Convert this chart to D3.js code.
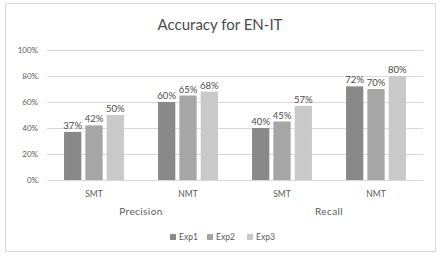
<!DOCTYPE html>
<html>
<head>
<meta charset="utf-8">
<script src="https://cdn.jsdelivr.net/npm/d3@7"></script>
<style>
  body { margin: 0; background: #fff; }
  svg { display: block; font-family: Lato, "Open Sans", sans-serif; }
</style>
</head>
<body>
<svg id="chart" width="444" height="258"></svg>
<script>
// chart data
const groups = ["Precision", "Recall"];
const categories = ["SMT", "NMT", "SMT", "NMT"];
const seriesNames = ["Exp1", "Exp2", "Exp3"];
const exp1 = [37, 60, 40, 72];
const exp2 = [42, 65, 45, 70];
const exp3 = [50, 68, 57, 80];
const yTicks = [0, 20, 40, 60, 80, 100];
const colors = ["#898989", "#a6a6a6", "#c9c9c9"];

const svg = d3.select('#chart');

// outer frame
svg.append('rect')
    .attr('x', 5.5).attr('y', 3.5)
    .attr('width', 430).attr('height', 248)
    .attr('fill', '#fff')
    .attr('stroke', '#d9d9d9');

svg.append('text')
    .attr('x', 220).attr('y', 30)
    .attr('text-anchor', 'middle')
    .attr('font-size', 15)
    .attr('fill', '#4a4a4a')
    .text('Accuracy for EN-IT');

const plotLeft = 47, plotRight = 423, plotTop = 50, plotBottom = 180;

const x0 = d3.scaleBand()
    .domain(d3.range(categories.length))
    .range([plotLeft, plotRight]);

const x1 = d3.scaleBand()
    .domain(seriesNames)
    .range([0, x0.bandwidth()])
    .paddingInner(0.19)
    .paddingOuter(0.8);

const y = d3.scaleLinear().domain([0, 100]).range([plotBottom, plotTop]);

// gridlines
svg.append('g').selectAll('line')
    .data(yTicks)
    .enter().append('line')
    .attr('x1', plotLeft).attr('x2', plotRight)
    .attr('y1', d => y(d) + 0.5).attr('y2', d => y(d) + 0.5)
    .attr('stroke', '#d9d9d9');

// y tick labels
svg.append('g').selectAll('text')
    .data(yTicks)
    .enter().append('text')
    .attr('x', 38).attr('y', d => y(d) + 3)
    .attr('text-anchor', 'end')
    .attr('font-size', 8)
    .attr('fill', '#595959')
    .text(d => d + '%');

const series = [exp1, exp2, exp3];

series.forEach((vals, si) => {
    const g = svg.append('g');
    g.selectAll('rect')
        .data(vals)
        .enter().append('rect')
        .attr('x', (d, i) => x0(i) + x1(seriesNames[si]))
        .attr('y', d => y(d))
        .attr('width', x1.bandwidth())
        .attr('height', d => plotBottom - y(d))
        .attr('fill', colors[si]);

    g.selectAll('text')
        .data(vals)
        .enter().append('text')
        .attr('x', (d, i) => x0(i) + x1(seriesNames[si]) + x1.bandwidth() / 2)
        .attr('y', d => y(d) - 3)
        .attr('text-anchor', 'middle')
        .attr('font-size', 9.5)
        .attr('fill', '#4a4a4a')
        .text(d => d + '%');
});

// category labels
svg.append('g').selectAll('text')
    .data(categories)
    .enter().append('text')
    .attr('x', (d, i) => x0(i) + x0.bandwidth() / 2)
    .attr('y', 197)
    .attr('text-anchor', 'middle')
    .attr('font-size', 8.5)
    .attr('fill', '#595959')
    .text(d => d);

// group labels
svg.append('g').selectAll('text')
    .data(groups)
    .enter().append('text')
    .attr('x', (d, i) => x0(i * 2) + x0.bandwidth())
    .attr('y', 215)
    .attr('text-anchor', 'middle')
    .attr('font-size', 10)
    .attr('letter-spacing', 0.4)
    .attr('fill', '#595959')
    .text(d => d);

// legend
const legendX = [170, 207, 247];
const legend = svg.append('g').selectAll('g')
    .data(seriesNames)
    .enter().append('g')
    .attr('transform', (d, i) => `translate(${legendX[i]},240)`);

legend.append('rect')
    .attr('x', 0).attr('y', -6)
    .attr('width', 6).attr('height', 6)
    .attr('fill', (d, i) => colors[i]);

legend.append('text')
    .attr('x', 9).attr('y', 0)
    .attr('font-size', 8.5)
    .attr('fill', '#595959')
    .text(d => d);
</script>
</body>
</html>
